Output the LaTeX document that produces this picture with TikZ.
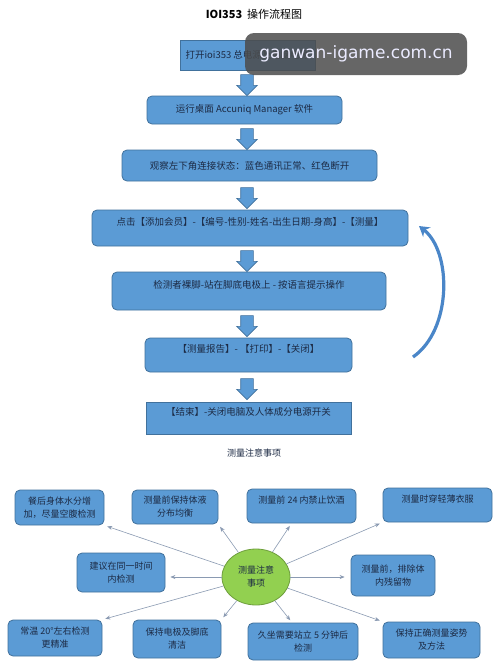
\documentclass[tikz,border=0pt]{standalone}
\usepackage{fontspec}
\setmainfont{Noto Sans CJK SC}
\newfontfamily\markfont{DejaVu Sans}
\usetikzlibrary{shapes.geometric,shapes.arrows,arrows.meta}
\definecolor{boxblue}{HTML}{5B9BD5}
\definecolor{boxedge}{HTML}{41719C}
\definecolor{textnavy}{HTML}{1C2A44}
\definecolor{leafgreen}{HTML}{92D050}
\definecolor{leafedge}{HTML}{6E9E3C}
\definecolor{linkgray}{HTML}{8A9AB2}
\definecolor{loopblue}{HTML}{4A86C8}
\tikzset{
  flowbox/.style={draw=boxedge, fill=boxblue, line width=0.8pt, rounded corners=5pt,
    text=textnavy, inner sep=0pt, font=\fontsize{9.5}{11}\selectfont},
  squarebox/.style={flowbox, rounded corners=0pt},
  raised/.style={text height=7pt, text depth=11.5pt},
  notebox/.style={flowbox, align=center, font=\fontsize{9}{13}\selectfont},
  downarrow/.style={single arrow, shape border rotate=270, draw=boxedge, fill=boxblue,
    line width=0.6pt, minimum height=21pt, single arrow head extend=4pt, inner sep=6pt},
  link/.style={draw=linkgray, line width=0.6pt, -{Stealth[length=5pt,width=4pt]}, shorten >=3pt},
  loopline/.style={draw=loopblue, line width=3.2pt, -{Stealth[length=10pt,width=12pt]}}
}
\begin{document}
\begin{tikzpicture}[x=1pt,y=-1pt]
            \fill[white] (0,0) rectangle (500,672);
            \useasboundingbox (0,0) rectangle (500,672);
            \node[font=\fontsize{11}{13}\selectfont] (title) at (254,14) {\textbf{IOI353}\ \ 操作流程图};
            % flow steps
            \node[squarebox, minimum width=135, minimum height=30] (b1) at (247.5,55) {打开ioi353 总电源及电脑电源};
            \node[flowbox, minimum width=195, minimum height=28] (b2) at (244.5,110) {运行桌面 Accuniq Manager 软件};
            \node[flowbox, minimum width=255, minimum height=31] (b3) at (249.5,165.5) {观察左下角连接状态：蓝色通讯正常、红色断开};
            \node[flowbox, raised, minimum width=316, minimum height=36] (b4) at (250,228) {点击【添加会员】-【编号-性别-姓名-出生日期-身高】-【测量】};
            \node[flowbox, raised, minimum width=274, minimum height=38] (b5) at (249,291) {检测者裸脚-站在脚底电极上 - 按语言提示操作};
            \node[flowbox, raised, minimum width=207, minimum height=34] (b6) at (248.5,355) {【测量报告】- 【打印】-【关闭】};
            \node[squarebox, raised, minimum width=205, minimum height=32] (b7) at (248.5,418) {【结束】-关闭电脑及人体成分电源开关};
            \node[downarrow] (a1) at (247,82) {};
            \node[downarrow] (a2) at (247,136) {};
            \node[downarrow] (a3) at (247,195) {};
            \node[downarrow] (a4) at (247,258) {};
            \node[downarrow] (a5) at (247,323) {};
            \node[downarrow] (a6) at (247,386) {};
            % loop back to the member step
            \coordinate (loopstart) at (413,357);
            \coordinate (loopend) at (419,226);
            \draw[loopline] (loopstart) .. controls (452,330) and (452,252) .. (loopend);
            % notes
            \node[font=\fontsize{9}{11}\selectfont, text=textnavy] (notes) at (254,453) {测量注意事项};
            \node[ellipse, draw=leafedge, fill=leafgreen, line width=0.8pt, minimum width=68, minimum height=56,
              align=center, text=textnavy, font=\fontsize{9}{13}\selectfont] (ctr) at (256,577) {测量注意\\事项};
            \node[notebox, minimum width=89, minimum height=35] (tl1) at (59.5,507.5) {餐后身体水分增\\加，尽量空腹检测};
            \node[notebox, minimum width=86, minimum height=34] (tl2) at (175,507) {测量前保持体液\\分布均衡};
            \node[notebox, raised, minimum width=109, minimum height=34] (tr1) at (301.5,506) {测量前 24 内禁止饮酒};
            \node[notebox, raised, minimum width=109, minimum height=34] (tr2) at (437.5,505) {测量时穿轻薄衣服};
            \node[notebox, minimum width=88, minimum height=39] (ml) at (121,572.5) {建议在同一时间\\内检测};
            \node[notebox, minimum width=84, minimum height=41] (mr) at (393,575.5) {测量前，排除体\\内残留物};
            \node[notebox, minimum width=94, minimum height=36] (bl1) at (55,638) {常温 20°左右检测\\更精准};
            \node[notebox, minimum width=88, minimum height=38] (bl2) at (177,639) {保持电极及脚底\\清洁};
            \node[notebox, minimum width=110, minimum height=37] (br1) at (303,641.5) {久坐需要站立 5 分钟后\\检测};
            \node[notebox, minimum width=97, minimum height=36] (br2) at (431.5,640) {保持正确测量姿势\\及方法};
            \draw[link] (ctr) -- (tl1.south east);
            \draw[link] (ctr) -- (tl2.south east);
            \draw[link] (ctr) -- (tr1.240);
            \draw[link] (ctr) -- (tr2.south west);
            \draw[link, shorten >=5pt] (ctr) -- (ctr -| ml.east);
            \draw[link, shorten >=6pt] (ctr) -- (ctr -| mr.west);
            \draw[link] (ctr) -- (bl1.north east);
            \draw[link] (ctr) -- (bl2.north east);
            \draw[link] (ctr) -- (br1.120);
            \draw[link] (ctr) -- (br2.north west);
            % site mark laid over the first step
            \node[draw=none, fill=black!70, fill opacity=0.85, text opacity=1, rounded corners=9pt,
              minimum width=222, minimum height=42, text=white!92!blue, font=\markfont\fontsize{17}{19}\selectfont] (wm) at (356,54) {ganwan-igame.com.cn};
        \end{tikzpicture}
\end{document}
